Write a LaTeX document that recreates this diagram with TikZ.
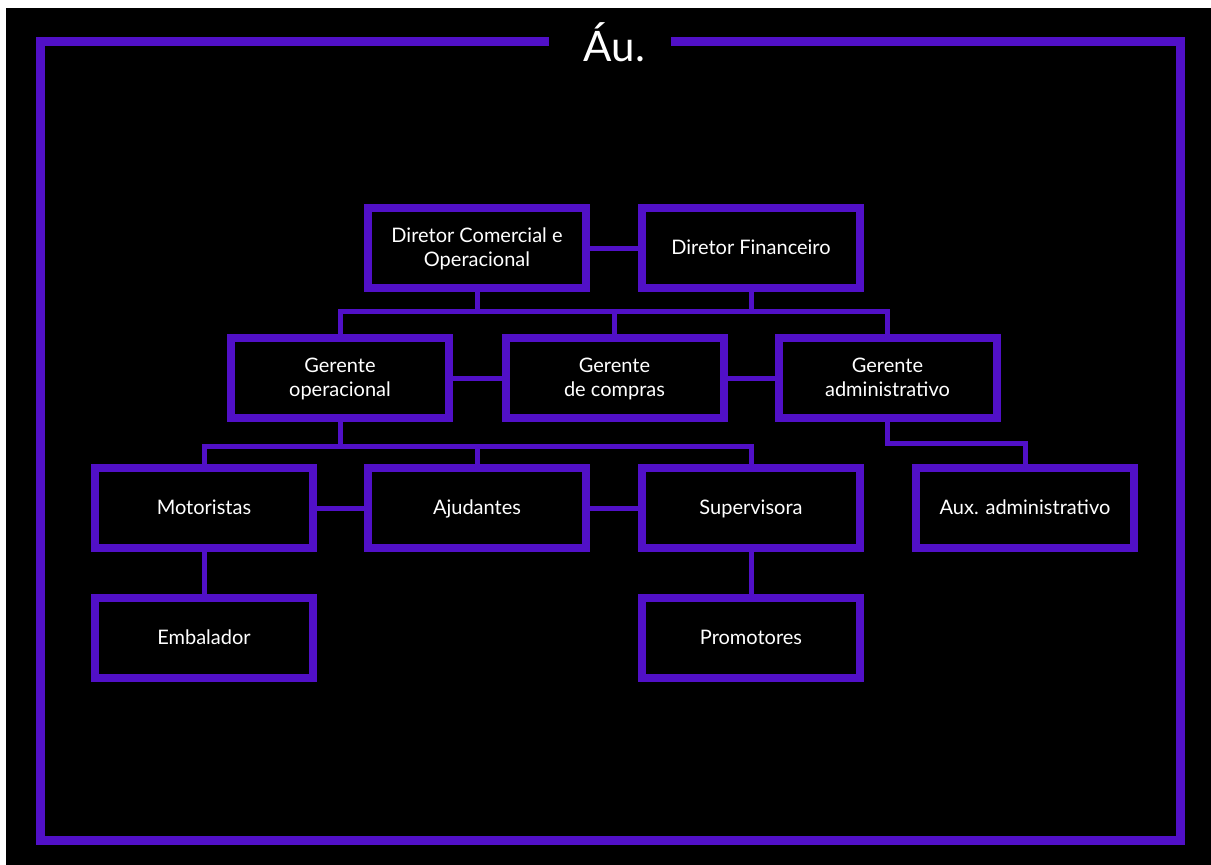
\documentclass[tikz,border=0pt]{standalone}
\usepackage{fontspec}
\setmainfont{Lato}
\definecolor{roxo}{RGB}{81,16,199}
\newcommand\mystrut{\rule[-5pt]{0pt}{22.6pt}}
\tikzset{
  box/.style={draw=roxo, line width=8pt, fill=black, text=white, align=center,
    minimum width=218pt, minimum height=80pt, inner sep=0pt,
    font=\fontsize{20pt}{24pt}\selectfont},
  conn/.style={draw=roxo, line width=5pt},
  frame/.style={draw=roxo, line width=8.5pt, line join=miter}
}
\begin{document}
\begin{tikzpicture}[x=1pt,y=-1pt]
\useasboundingbox (0,0) rectangle (1211,865);
\fill[white] (0,0) rectangle (1211,865);
\fill[black] (6,8) rectangle (1211,865);
% frame
\coordinate (fa) at (549,41.5);
\coordinate (fb) at (40.3,41.5);
\coordinate (fc) at (40.3,840.7);
\coordinate (fd) at (1180.7,840.7);
\coordinate (fe) at (1180.7,41.5);
\coordinate (ff) at (671,41.5);
\draw[frame] (fa) -- (fb) -- (fc) -- (fd) -- (fe) -- (ff);
\node[text=white, anchor=base, font=\fontsize{42pt}{48pt}\selectfont, inner sep=0pt] (title) at (614.5,61) {Áu.};
% bus coordinates
\coordinate (b1R) at (887.5,311.5);
\coordinate (b2R) at (751,446.5);
\coordinate (elb) at (1025,443);
% nodes
\node[box] (dc) at (477,248) {\mystrut Diretor Comercial e\\\mystrut Operacional};
\node[box] (df) at (751,248) {\mystrut Diretor Financeiro};
\node[box] (go) at (340,378) {\mystrut Gerente\\\mystrut operacional};
\node[box] (gc) at (614.5,378) {\mystrut Gerente\\\mystrut de compras};
\node[box] (ga) at (887.5,378) {\mystrut Gerente\\\mystrut administrativo};
\node[box] (mo) at (204,508) {\mystrut Motoristas};
\node[box] (aj) at (477,508) {\mystrut Ajudantes};
\node[box] (su) at (751,508) {\mystrut Supervisora};
\node[box] (ax) at (1025,508) {\mystrut Aux. administrativo};
\node[box] (em) at (204,638) {\mystrut Embalador};
\node[box] (pr) at (751,638) {\mystrut Promotores};
% connectors
\draw[conn] (dc.east) -- (df.west);
\draw[conn] (go.east) -- (gc.west);
\draw[conn] (gc.east) -- (ga.west);
\draw[conn] (mo.east) -- (aj.west);
\draw[conn] (aj.east) -- (su.west);
\draw[conn] (go.north) |- (b1R) -- (ga.north);
\draw[conn] (dc.south) -- (dc.south |- b1R);
\draw[conn] (df.south) -- (df.south |- b1R);
\draw[conn] (gc.north) -- (gc.north |- b1R);
\draw[conn] (mo.north) |- (b2R) -- (su.north);
\draw[conn] (go.south) -- (go.south |- b2R);
\draw[conn] (aj.north) -- (aj.north |- b2R);
\draw[conn] (ga.south) |- (elb) -- (ax.north);
\draw[conn] (mo.south) -- (em.north);
\draw[conn] (su.south) -- (pr.north);
\end{tikzpicture}
\end{document}
